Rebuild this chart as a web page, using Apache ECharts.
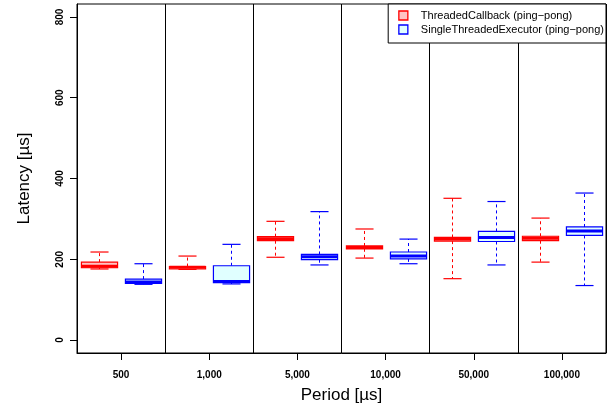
<!DOCTYPE html>
<html>
<head>
<meta charset="utf-8">
<script src="https://cdn.jsdelivr.net/npm/echarts@6/dist/echarts.min.js"></script>
<style>html,body{margin:0;padding:0;background:#fff}#c{width:616px;height:409px}</style>
</head>
<body>
<div id="c"></div>
<script>
// Periods (categories)
const categories = ['500', '1,000', '5,000', '10,000', '50,000', '100,000'];
// Box stats per period: [lowerWhisker, Q1, median, Q3, upperWhisker] in µs
const threadedCallback = [
  [176, 179, 183, 193, 218],
  [175, 176, 180, 182, 208],
  [205, 246, 251, 256, 294],
  [203, 226, 229, 233, 275],
  [152, 245, 250, 254, 351],
  [193, 246, 252, 257, 302]
];
const singleThreadedExecutor = [
  [138, 140, 144, 151, 189],
  [139, 142, 145, 184, 237],
  [186, 199, 206, 212, 318],
  [189, 201, 208, 218, 250],
  [186, 244, 254, 269, 343],
  [135, 259, 270, 280, 364]
];
const seriesNames = ['ThreadedCallback (ping\u2212pong)', 'SingleThreadedExecutor (ping\u2212pong)'];
const yTicks = [0, 200, 400, 600, 800];

const strokeColors = ['#ff0000', '#0000ff'];
const fillColors = ['#ffc4c4', '#e0ffff'];

// 12 slots: two boxes per period
const slots = [];
categories.forEach(c => { slots.push(c + '-a'); slots.push(c + '-b'); });

function toData(arr, offset) {
  return arr.map((v, i) => [i * 2 + offset].concat(v));
}

function makeRender(si) {
  return function (params, api) {
    const x = api.value(0);
    const low = api.coord([x, api.value(1)]);
    const q1 = api.coord([x, api.value(2)]);
    const med = api.coord([x, api.value(3)]);
    const q3 = api.coord([x, api.value(4)]);
    const high = api.coord([x, api.value(5)]);
    const bw = api.size([1, 0])[0] * 0.82;
    const cx = Math.round(low[0]) + 0.5;
    const stroke = strokeColors[si];
    const dashed = { stroke: stroke, lineWidth: 1, lineDash: [3, 3] };
    const solid = { stroke: stroke, lineWidth: 1.2 };
    return {
      type: 'group',
      children: [
        { type: 'line', shape: { x1: cx, y1: q3[1], x2: cx, y2: high[1] }, style: dashed },
        { type: 'line', shape: { x1: cx, y1: q1[1], x2: cx, y2: low[1] }, style: dashed },
        { type: 'line', shape: { x1: cx - bw / 4, y1: high[1], x2: cx + bw / 4, y2: high[1] }, style: solid },
        { type: 'line', shape: { x1: cx - bw / 4, y1: low[1], x2: cx + bw / 4, y2: low[1] }, style: solid },
        { type: 'rect', shape: { x: cx - bw / 2, y: q3[1], width: bw, height: q1[1] - q3[1] },
          style: { fill: fillColors[si], stroke: stroke, lineWidth: 1.2 } },
        { type: 'line', shape: { x1: cx - bw / 2, y1: med[1], x2: cx + bw / 2, y2: med[1] },
          style: { stroke: stroke, lineWidth: 3 } }
      ]
    };
  };
}

const font = 'Liberation Sans, Arial, Helvetica, sans-serif';
const chart = echarts.init(document.getElementById('c'), null, { renderer: 'canvas' });
chart.setOption({
  animation: false,
  backgroundColor: '#fff',
  grid: { left: 77, right: 10, top: 4, bottom: 55, show: true, borderColor: '#000', borderWidth: 1, backgroundColor: 'transparent' },
  legend: {
    orient: 'vertical', right: 10, top: 4,
    backgroundColor: '#fff',
    borderColor: '#000', borderWidth: 1,
    padding: [6, 2, 8, 10],
    itemWidth: 9, itemHeight: 9, itemGap: 3,
    textStyle: { fontFamily: font, fontSize: 11, color: '#000', padding: [0, 0, 0, 8] },
    data: seriesNames.map((n, i) => ({
      name: n, icon: 'rect',
      itemStyle: { color: fillColors[i], borderColor: strokeColors[i], borderWidth: 1.3 }
    }))
  },
  xAxis: [
    { type: 'category', data: slots, position: 'top', show: false, boundaryGap: true },
    {
      type: 'category', data: categories, position: 'bottom', boundaryGap: true,
      axisLine: { show: true, lineStyle: { color: '#000', width: 1 } },
      axisTick: { show: true, alignWithLabel: true, length: 7, lineStyle: { color: '#000' } },
      axisLabel: { fontFamily: font, fontSize: 10, fontWeight: 'bold', color: '#000', margin: 17 },
      splitLine: { show: true, lineStyle: { color: '#000', width: 1 } },
      name: 'Period [\u00b5s]', nameLocation: 'middle', nameGap: 34,
      nameTextStyle: { fontFamily: font, fontSize: 17, color: '#000' }
    }
  ],
  yAxis: {
    type: 'value', min: -32, max: 832,
    axisLine: { show: true, lineStyle: { color: '#000', width: 1 } },
    axisTick: { show: true, length: 7, customValues: yTicks, lineStyle: { color: '#000' } },
    axisLabel: { customValues: yTicks, rotate: 90, fontFamily: font, fontSize: 10, fontWeight: 'bold', color: '#000', margin: 12 },
    splitLine: { show: false },
    name: 'Latency [\u00b5s]', nameLocation: 'middle', nameRotate: 90, nameGap: 44,
    nameTextStyle: { fontFamily: font, fontSize: 17, color: '#000' }
  },
  series: [
    {
      name: seriesNames[0], type: 'custom', xAxisIndex: 0, yAxisIndex: 0,
      renderItem: makeRender(0), encode: { x: 0, y: [1, 2, 3, 4, 5] },
      itemStyle: { color: fillColors[0], borderColor: strokeColors[0] },
      data: toData(threadedCallback, 0)
    },
    {
      name: seriesNames[1], type: 'custom', xAxisIndex: 0, yAxisIndex: 0,
      renderItem: makeRender(1), encode: { x: 0, y: [1, 2, 3, 4, 5] },
      itemStyle: { color: fillColors[1], borderColor: strokeColors[1] },
      data: toData(singleThreadedExecutor, 1)
    }
  ]
});
</script>
</body>
</html>
